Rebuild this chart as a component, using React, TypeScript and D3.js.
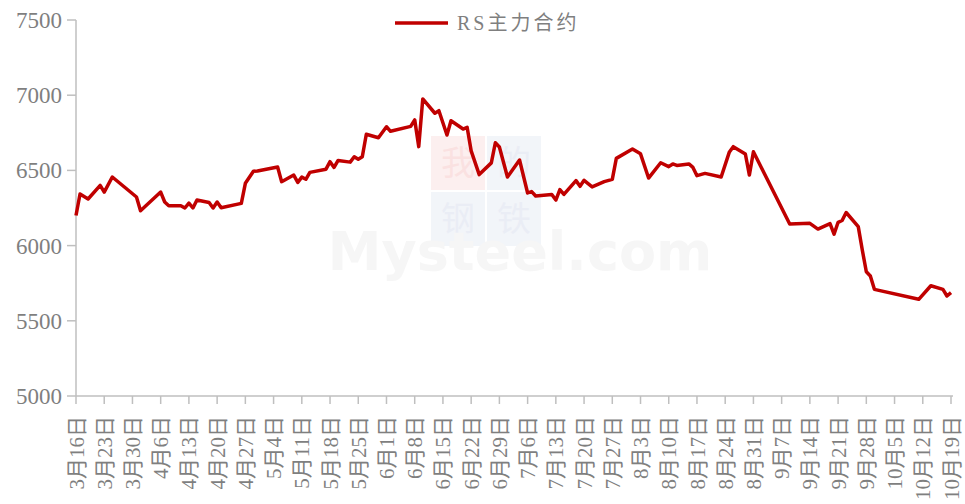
import React from "react";
import * as d3 from "d3";

// RS main contract, daily close (vertices)
const dates: string[] = [
    "2020-03-16", "2020-03-17", "2020-03-19", "2020-03-22", "2020-03-23", "2020-03-25", "2020-03-31",
    "2020-04-01", "2020-04-06", "2020-04-07", "2020-04-08", "2020-04-11", "2020-04-12", "2020-04-13",
    "2020-04-14", "2020-04-15", "2020-04-18", "2020-04-19", "2020-04-20", "2020-04-21", "2020-04-26",
    "2020-04-27", "2020-04-29", "2020-04-30", "2020-05-05", "2020-05-06", "2020-05-09", "2020-05-10",
    "2020-05-11", "2020-05-12", "2020-05-13", "2020-05-17", "2020-05-18", "2020-05-19", "2020-05-20",
    "2020-05-23", "2020-05-24", "2020-05-25", "2020-05-26", "2020-05-27", "2020-05-30", "2020-06-01",
    "2020-06-02", "2020-06-07", "2020-06-08", "2020-06-09", "2020-06-10", "2020-06-13", "2020-06-14",
    "2020-06-16", "2020-06-17", "2020-06-20", "2020-06-21", "2020-06-22", "2020-06-24", "2020-06-27",
    "2020-06-28", "2020-06-29", "2020-07-01", "2020-07-04", "2020-07-06", "2020-07-07", "2020-07-08",
    "2020-07-12", "2020-07-13", "2020-07-14", "2020-07-15", "2020-07-18", "2020-07-19", "2020-07-20",
    "2020-07-22", "2020-07-25", "2020-07-27", "2020-07-28", "2020-08-01", "2020-08-03", "2020-08-05",
    "2020-08-08", "2020-08-10", "2020-08-11", "2020-08-12", "2020-08-15", "2020-08-16", "2020-08-17",
    "2020-08-19", "2020-08-23", "2020-08-25", "2020-08-26", "2020-08-29", "2020-08-30", "2020-08-31",
    "2020-09-09", "2020-09-14", "2020-09-16", "2020-09-19", "2020-09-20", "2020-09-21", "2020-09-22",
    "2020-09-23", "2020-09-26", "2020-09-27", "2020-09-28", "2020-09-29", "2020-09-30", "2020-10-11",
    "2020-10-14", "2020-10-17", "2020-10-18", "2020-10-19",
];
const values: number[] = [
    6200, 6343, 6310, 6400, 6356, 6456, 6323,
    6232, 6356, 6290, 6265, 6265, 6250, 6283,
    6250, 6303, 6287, 6250, 6290, 6252, 6281,
    6414, 6494, 6496, 6522, 6425, 6469, 6420,
    6455, 6441, 6487, 6508, 6558, 6520, 6566,
    6555, 6591, 6574, 6591, 6740, 6717, 6790,
    6760, 6793, 6836, 6658, 6975, 6880, 6897,
    6735, 6830, 6775, 6787, 6630, 6472, 6550,
    6684, 6656, 6456, 6569, 6350, 6359, 6330,
    6340, 6303, 6372, 6340, 6432, 6394, 6434,
    6390, 6425, 6440, 6580, 6642, 6610, 6449,
    6551, 6525, 6543, 6533, 6543, 6520, 6465,
    6480, 6456, 6620, 6658, 6609, 6469, 6624,
    6144, 6148, 6110, 6146, 6076, 6155, 6167,
    6220, 6126, 5971, 5826, 5798, 5709, 5643,
    5733, 5709, 5665, 5687,
];
const yTicks: number[] = [5000, 5500, 6000, 6500, 7000, 7500];
const seriesName = "RS主力合约";
const markChars: string[] = ["我", "的", "钢", "铁"];

const width = 965;
const height = 504;
const left = 76;
const right = 951;
const top = 20;
const bottom = 396;

const serif = "'Liberation Serif', 'Times New Roman', 'Noto Sans CJK SC', serif";
const grey = "#7f7f7f";

const App: React.FC = () => {
    const parse = d3.utcParse("%Y-%m-%d");
    const data = dates.map((d, i) => ({ date: parse(d) as Date, value: values[i] }));

    const x = d3.scaleUtc()
        .domain([parse("2020-03-16") as Date, parse("2020-10-19") as Date])
        .range([left, right]);
    const y = d3.scaleLinear().domain([5000, 7500]).range([bottom, top]);

    const xTicks = d3.utcMonday.range(x.domain()[0], d3.utcDay.offset(x.domain()[1], 1));
    const fmt = (d: Date) => `${d.getUTCMonth() + 1}月${d.getUTCDate()}日`;

    const line = d3.line<{ date: Date; value: number }>()
        .x(d => x(d.date))
        .y(d => y(d.value));

    return (
        <svg width={width} height={height} style={{ position: "absolute", left: 0, top: 0, background: "#fff" }}>
            {/* watermark */}
            <g opacity={0.55}>
                {markChars.map((c, i) => {
                    const bx = 431 + (i % 2) * 56;
                    const by = 136 + Math.floor(i / 2) * 56;
                    return (
                        <g key={c}>
                            <rect x={bx} y={by} width={54} height={54} fill={i === 0 ? "#fbe3e3" : "#e9edf5"} />
                            <text x={bx + 27} y={by + 27} dy="0.36em" textAnchor="middle" fontSize={34}
                                fill={i === 0 ? "#f6caca" : "#d9e0ee"} fontFamily="'Noto Sans CJK SC'">{c}</text>
                        </g>
                    );
                })}
                <text x={520} y={270} textAnchor="middle" fontSize={54} fontWeight="bold" fill="#efefef"
                    fontFamily="'DejaVu Sans', sans-serif">Mysteel.com</text>
            </g>

            {/* y axis */}
            <line x1={left} x2={left} y1={top} y2={bottom} stroke="#bfbfbf" strokeWidth={1.5} />
            {yTicks.map(t => (
                <g key={t}>
                    <line x1={left - 9} x2={left} y1={y(t)} y2={y(t)} stroke="#bfbfbf" strokeWidth={1.5} />
                    <text x={62} y={y(t)} dy="0.35em" textAnchor="end" fontSize={23} fill={grey} fontFamily={serif}>{t}</text>
                </g>
            ))}

            {/* x axis */}
            <line x1={left} x2={right + 2} y1={bottom} y2={bottom} stroke="#bfbfbf" strokeWidth={1.5} />
            {xTicks.map(t => (
                <g key={t.toISOString()}>
                    <line x1={x(t)} x2={x(t)} y1={bottom} y2={bottom + 8} stroke="#bfbfbf" strokeWidth={1.5} />
                    <text
                        transform={`translate(${x(t)},${416}) rotate(-90)`}
                        dy="0.36em"
                        textAnchor="end"
                        fontSize={21}
                        fill={grey}
                        fontFamily={serif}
                    >
                        {fmt(t)}
                    </text>
                </g>
            ))}

            {/* series */}
            <path d={line(data) ?? ""} fill="none" stroke="#c00000" strokeWidth={3.5} strokeLinejoin="round" />

            {/* legend */}
            <line x1={395} x2={448} y1={23} y2={23} stroke="#c00000" strokeWidth={3.5} />
            <text x={457} y={23} dy="0.35em" fontSize={20} fill={grey} fontFamily={serif} letterSpacing={3}>{seriesName}</text>
        </svg>
    );
};

export default App;
